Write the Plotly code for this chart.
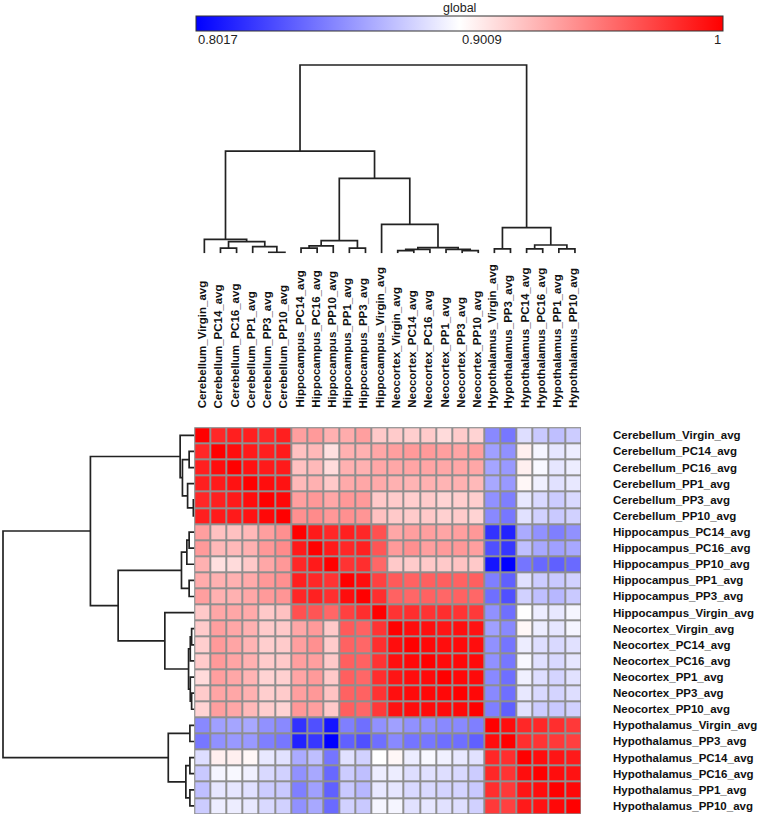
import plotly.graph_objects as go

# ---------------- data ----------------
labels = ["Cerebellum_Virgin_avg", "Cerebellum_PC14_avg", "Cerebellum_PC16_avg",
          "Cerebellum_PP1_avg", "Cerebellum_PP3_avg", "Cerebellum_PP10_avg",
          "Hippocampus_PC14_avg", "Hippocampus_PC16_avg", "Hippocampus_PP10_avg",
          "Hippocampus_PP1_avg", "Hippocampus_PP3_avg", "Hippocampus_Virgin_avg",
          "Neocortex_Virgin_avg", "Neocortex_PC14_avg", "Neocortex_PC16_avg",
          "Neocortex_PP1_avg", "Neocortex_PP3_avg", "Neocortex_PP10_avg",
          "Hypothalamus_Virgin_avg", "Hypothalamus_PP3_avg", "Hypothalamus_PC14_avg",
          "Hypothalamus_PC16_avg", "Hypothalamus_PP1_avg", "Hypothalamus_PP10_avg"]

# upper triangle (row i, columns i..23) of the correlation matrix
upper_rows = [
    [1.0, 0.985, 0.988, 0.988, 0.985, 0.988, 0.938, 0.940, 0.931, 0.933, 0.938, 0.922, 0.921, 0.920, 0.921, 0.915, 0.921, 0.918, 0.855, 0.848, 0.888, 0.880, 0.876, 0.881],
    [1.0, 0.995, 0.990, 0.988, 0.990, 0.925, 0.928, 0.913, 0.931, 0.931, 0.935, 0.938, 0.940, 0.940, 0.938, 0.936, 0.938, 0.864, 0.858, 0.907, 0.897, 0.891, 0.894],
    [1.0, 0.993, 0.990, 0.990, 0.925, 0.928, 0.915, 0.931, 0.931, 0.935, 0.935, 0.936, 0.936, 0.935, 0.935, 0.935, 0.866, 0.861, 0.907, 0.898, 0.891, 0.894],
    [1.0, 0.995, 0.993, 0.928, 0.931, 0.922, 0.934, 0.935, 0.934, 0.931, 0.930, 0.931, 0.930, 0.931, 0.928, 0.867, 0.861, 0.904, 0.895, 0.889, 0.892],
    [1.0, 0.997, 0.938, 0.941, 0.935, 0.941, 0.940, 0.922, 0.921, 0.920, 0.921, 0.918, 0.920, 0.920, 0.858, 0.851, 0.892, 0.886, 0.881, 0.886],
    [1.0, 0.944, 0.946, 0.941, 0.944, 0.942, 0.925, 0.922, 0.921, 0.922, 0.919, 0.921, 0.918, 0.855, 0.848, 0.889, 0.883, 0.880, 0.883],
    [1.0, 0.990, 0.985, 0.988, 0.985, 0.969, 0.935, 0.938, 0.938, 0.936, 0.938, 0.941, 0.821, 0.815, 0.868, 0.858, 0.851, 0.858],
    [1.0, 0.990, 0.985, 0.987, 0.967, 0.940, 0.944, 0.938, 0.940, 0.941, 0.938, 0.833, 0.823, 0.876, 0.867, 0.864, 0.867],
    [1.0, 0.980, 0.982, 0.960, 0.922, 0.921, 0.922, 0.922, 0.924, 0.922, 0.810, 0.8017, 0.847, 0.842, 0.839, 0.843],
    [1.0, 0.995, 0.975, 0.965, 0.962, 0.963, 0.963, 0.962, 0.963, 0.851, 0.839, 0.889, 0.881, 0.880, 0.883],
    [1.0, 0.982, 0.962, 0.960, 0.962, 0.960, 0.962, 0.960, 0.845, 0.833, 0.883, 0.876, 0.873, 0.880],
    [1.0, 0.980, 0.982, 0.980, 0.982, 0.980, 0.978, 0.858, 0.845, 0.901, 0.894, 0.892, 0.897],
    [1.0, 0.995, 0.994, 0.992, 0.994, 0.993, 0.864, 0.855, 0.904, 0.894, 0.891, 0.897],
    [1.0, 0.997, 0.995, 0.996, 0.995, 0.858, 0.847, 0.894, 0.888, 0.886, 0.889],
    [1.0, 0.996, 0.997, 0.996, 0.858, 0.848, 0.898, 0.889, 0.886, 0.891],
    [1.0, 0.997, 0.996, 0.855, 0.845, 0.895, 0.888, 0.884, 0.889],
    [1.0, 0.997, 0.855, 0.845, 0.892, 0.886, 0.884, 0.888],
    [1.0, 0.851, 0.839, 0.889, 0.881, 0.880, 0.883],
    [1.0, 0.995, 0.985, 0.985, 0.982, 0.978],
    [1.0, 0.982, 0.980, 0.978, 0.975],
    [1.0, 0.995, 0.992, 0.990],
    [1.0, 0.995, 0.993],
    [1.0, 0.997],
    [1.0],
]

# hierarchical clustering merges (children: <24 leaf index, >=24 earlier merge), heights
merge_left = [4, 3, 1, 26, 0, 6, 29, 9, 30, 12, 33, 16, 15, 34, 11, 32, 28, 18, 20, 22, 42, 41, 40]
merge_right = [5, 24, 2, 25, 27, 7, 8, 10, 31, 13, 14, 17, 35, 36, 37, 38, 39, 19, 21, 23, 43, 44, 45]
merge_height = [0.005, 0.035, 0.027, 0.062, 0.074, 0.027, 0.039, 0.027, 0.067,
                0.014, 0.021, 0.014, 0.021, 0.030, 0.154, 0.398, 0.543,
                0.023, 0.023, 0.023, 0.044, 0.136, 1.0]

zmin, zmax = 0.8017, 1.0
cbar_ticks = [0.8017, 0.9009, 1.0]
cbar_ticktext = ["0.8017", "0.9009", "1"]
cbar_title = "global"

# ---------------- build ----------------
n = len(labels)
z = [[0.0] * n for _ in range(n)]
for i, row in enumerate(upper_rows):
    for k, v in enumerate(row):
        j = i + k
        z[i][j] = v
        z[j][i] = v


def dendro_paths(left, right, height, nleaves):
    pos = {i: float(i) for i in range(nleaves)}
    hgt = {i: 0.0 for i in range(nleaves)}
    xs, ys = [], []
    for k, (a, b, h) in enumerate(zip(left, right, height)):
        xa, xb = pos[a], pos[b]
        xs += [xa, xa, xb, xb, None]
        ys += [hgt[a], h, h, hgt[b], None]
        pos[nleaves + k] = (xa + xb) / 2
        hgt[nleaves + k] = h
    return xs, ys


dx, dh = dendro_paths(merge_left, merge_right, merge_height, n)

W, H = 758, 817
FONT = "Liberation Sans, Arial, sans-serif"


def fx(p):
    return p / W


def fy(p):
    return 1 - p / H


heat_l, heat_r, heat_t, heat_b = 194.3, 581.0, 427.3, 814.0
cb_l, cb_r, cb_t = 196.0, 723.0, 16.0

fig = go.Figure()

fig.add_trace(go.Heatmap(
    z=z, x=list(range(n)), y=list(range(n)),
    zmin=zmin, zmax=zmax,
    colorscale=[[0, "#0000FF"], [0.5, "#FFFFFF"], [1, "#FF0000"]],
    xgap=2, ygap=2, hoverinfo="skip",
    colorbar=dict(orientation="h", x=fx((cb_l + cb_r) / 2), xanchor="center",
                  y=fy(cb_t), yanchor="top", len=(cb_r - cb_l) / W, lenmode="fraction",
                  thickness=15, thicknessmode="pixels", xpad=0, ypad=0,
                  outlinewidth=1, outlinecolor="#333333",
                  showticklabels=False, ticks=""),
    xaxis="x", yaxis="y"))

line_style = dict(color="#222222", width=1.7)
fig.add_trace(go.Scatter(x=dx, y=dh, mode="lines", line=line_style,
                         hoverinfo="skip", showlegend=False, xaxis="x2", yaxis="y2"))
fig.add_trace(go.Scatter(x=dh, y=dx, mode="lines", line=line_style,
                         hoverinfo="skip", showlegend=False, xaxis="x3", yaxis="y3"))
fig.add_trace(go.Scatter(x=cbar_ticks, y=[0] * len(cbar_ticks), mode="markers",
                         marker=dict(opacity=0), hoverinfo="skip", showlegend=False,
                         xaxis="x4", yaxis="y4"))

hidden = dict(visible=False, showgrid=False, zeroline=False, fixedrange=True)
top_scale = 188.3
left_scale = 191.3
fig.update_layout(
    width=W, height=H,
    margin=dict(l=0, r=0, t=0, b=0, autoexpand=False),
    paper_bgcolor="white", plot_bgcolor="white",
    showlegend=False,
    xaxis=dict(domain=[fx(heat_l), fx(heat_r)], range=[-0.5, n - 0.5], anchor="y", **hidden),
    yaxis=dict(domain=[fy(heat_b), fy(heat_t)], range=[n - 0.5, -0.5], anchor="x", **hidden),
    xaxis2=dict(domain=[fx(heat_l + 2), fx(heat_r + 2)], range=[-0.5, n - 0.5], anchor="y2", **hidden),
    yaxis2=dict(domain=[fy(253.3), fy(253.3 - 1.02 * top_scale)], range=[0, 1.02], anchor="x2", **hidden),
    xaxis3=dict(domain=[0, fx(heat_l)], range=[heat_l / left_scale, 0], anchor="y3", **hidden),
    yaxis3=dict(domain=[fy(heat_b), fy(heat_t)], range=[n - 0.5, -0.5], anchor="x3", **hidden),
    xaxis4=dict(domain=[fx(cb_l), fx(cb_r)], range=[zmin, zmax], anchor="y4", **hidden),
    yaxis4=dict(domain=[fy(48), fy(30)], range=[-1, 1], anchor="x4", **hidden),
)

# grey grid beneath the cells
fig.add_shape(type="rect", xref="x", yref="y", x0=-0.5, x1=n - 0.5, y0=-0.5, y1=n - 0.5,
              fillcolor="#8f8f8f", line=dict(color="#8f8f8f", width=1.5), layer="below")

annotations = []
for i, lab in enumerate(labels):
    annotations.append(dict(x=i, xref="x", y=fy(410), yref="paper", text=lab,
                            textangle=-90, xanchor="center", yanchor="bottom",
                            showarrow=False,
                            font=dict(family=FONT, size=11.5, color="#111111", weight="bold")))
    annotations.append(dict(x=fx(611), xref="paper", y=i, yref="y", text=lab,
                            xanchor="left", yanchor="middle", showarrow=False,
                            font=dict(family=FONT, size=11.5, color="#111111", weight="bold")))

annotations.append(dict(x=fx((cb_l + cb_r) / 2), xref="paper", y=fy(8), yref="paper",
                        text=cbar_title, xanchor="center", yanchor="middle", showarrow=False,
                        font=dict(family=FONT, size=12.5, color="#222222")))
for k, (tv, tt) in enumerate(zip(cbar_ticks, cbar_ticktext)):
    annotations.append(dict(x=tv, xref="x4", y=fy(40), yref="paper", text=tt,
                            xanchor="right" if k == len(cbar_ticks) - 1 else "left",
                            yanchor="middle", showarrow=False,
                            font=dict(family=FONT, size=13, color="#222222")))

fig.update_layout(annotations=annotations)
fig.write_html("out.html", config={"displayModeBar": False},
               post_script="document.body.style.margin='0px';")
